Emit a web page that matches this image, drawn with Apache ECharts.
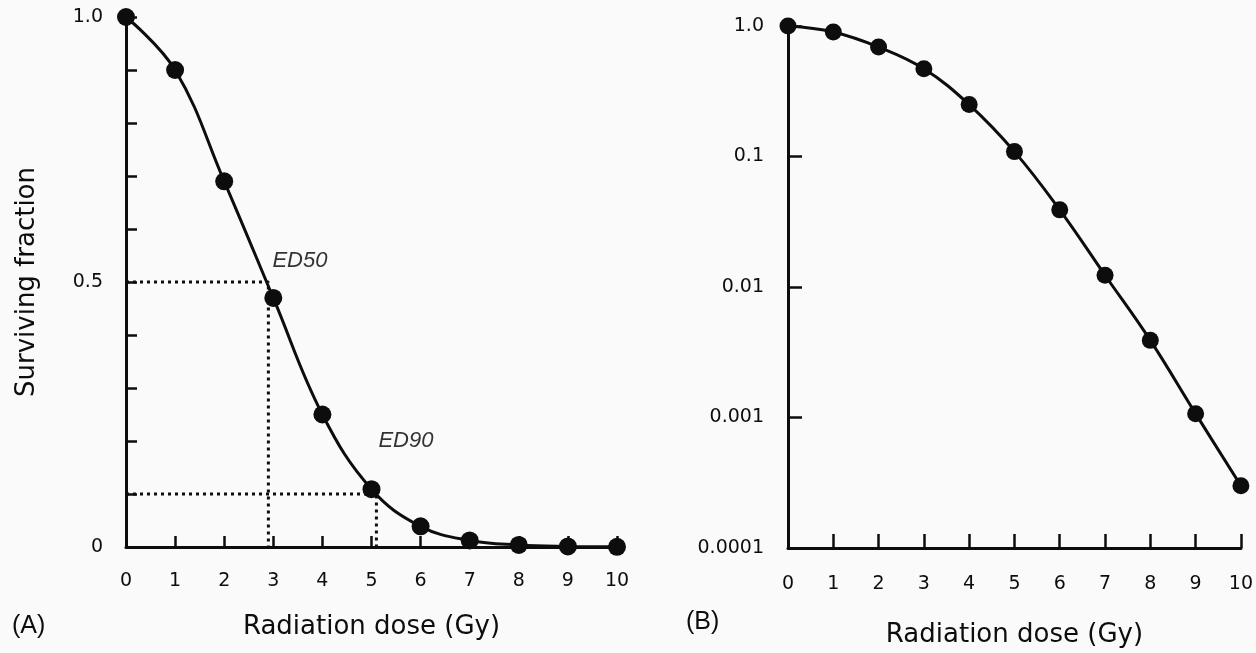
<!DOCTYPE html>
<html>
<head>
<meta charset="utf-8">
<script src="https://cdn.jsdelivr.net/npm/echarts@6/dist/echarts.min.js"></script>
<style>
  html, body { margin: 0; padding: 0; background: #fafafa; }
  #main { width: 1256px; height: 653px; }
</style>
</head>
<body>
<div id="main"></div>
<script>
// dose (Gy) and surviving fraction
var doses = [0, 1, 2, 3, 4, 5, 6, 7, 8, 9, 10];
var survival = [1.0, 0.9, 0.69, 0.47, 0.25, 0.109, 0.039, 0.0123, 0.0039, 0.00107, 0.0003];
var xTicks = ['0', '1', '2', '3', '4', '5', '6', '7', '8', '9', '10'];
var linTickLabels = { '0': '0', '0.5': '0.5', '1': '1.0' };
var logTickLabels = ['0.0001', '0.001', '0.01', '0.1', '1.0'];
// ED50 / ED90
var ed50 = [2.9, 0.5];
var ed90 = [5.1, 0.1];

var pts = doses.map(function (d, i) { return [d, survival[i]]; });

var fontTick = 'DejaVu Sans, sans-serif';
var fontName = 'DejaVu Sans, sans-serif';
var ink = '#0d0d0d';

function xAxisCfg(gridIndex, tickLen, gap, margin) {
  return {
    gridIndex: gridIndex,
    type: 'value',
    min: 0,
    max: 10,
    interval: 1,
    name: 'Radiation dose (Gy)',
    nameLocation: 'middle',
    nameGap: gap,
    nameTextStyle: { fontFamily: fontName, fontSize: 26, color: ink },
    axisLine: { lineStyle: { color: ink, width: 3 } },
    axisTick: { inside: true, length: tickLen, lineStyle: { color: ink, width: 2.5 } },
    axisLabel: {
      margin: margin,
      fontFamily: fontTick,
      fontSize: 19,
      color: ink,
      formatter: function (v) { return xTicks[v]; }
    },
    splitLine: { show: false }
  };
}

// dotted guide from the y axis over to the curve and down to the x axis
function guide(p) {
  return [[0, p[1]], p, [p[0], 0]];
}

var option = {
  backgroundColor: '#fafafa',
  animation: false,
  grid: [
    { left: 126, top: 17, width: 491, height: 530 },
    { left: 788, top: 26, width: 455, height: 527 }
  ],
  xAxis: [xAxisCfg(0, 11, 67, 25), xAxisCfg(1, 14, 74, 27)],
  yAxis: [
    {
      gridIndex: 0,
      type: 'value',
      min: 0,
      max: 1,
      interval: 0.1,
      name: 'Surviving fraction',
      nameLocation: 'middle',
      nameGap: 86,
      nameTextStyle: { fontFamily: fontName, fontSize: 26, color: ink },
      axisLine: { show: true, lineStyle: { color: ink, width: 3 } },
      axisTick: { show: true, inside: true, length: 11, lineStyle: { color: ink, width: 2.5 } },
      axisLabel: {
        margin: 23,
        fontFamily: fontTick,
        fontSize: 19,
        color: ink,
        formatter: function (v) {
          var k = String(Math.round(v * 10) / 10);
          return linTickLabels[k] || '';
        }
      },
      splitLine: { show: false }
    },
    {
      gridIndex: 1,
      type: 'log',
      logBase: 10,
      min: 0.0001,
      max: 1,
      interval: 1,
      axisLine: { show: true, lineStyle: { color: ink, width: 3 } },
      axisTick: { show: true, inside: true, length: 14, lineStyle: { color: ink, width: 2.5 } },
      axisLabel: {
        margin: 24,
        fontFamily: fontTick,
        fontSize: 19,
        color: ink,
        formatter: function (v) {
          var e = Math.round(Math.log10(v)) + 4;
          return logTickLabels[e] || '';
        }
      },
      splitLine: { show: false }
    }
  ],
  series: [
    {
      type: 'line',
      xAxisIndex: 0,
      yAxisIndex: 0,
      data: guide(ed50),
      symbol: 'none',
      lineStyle: { color: ink, width: 3, type: [3, 4] },
      z: 1
    },
    {
      type: 'line',
      xAxisIndex: 0,
      yAxisIndex: 0,
      data: guide(ed90),
      symbol: 'none',
      lineStyle: { color: ink, width: 3, type: [3, 4] },
      z: 1
    },
    {
      type: 'line',
      xAxisIndex: 0,
      yAxisIndex: 0,
      data: pts,
      smooth: 0.4,
      symbol: 'circle',
      symbolSize: 18,
      itemStyle: { color: ink },
      lineStyle: { color: ink, width: 3 },
      z: 3
    },
    {
      type: 'line',
      xAxisIndex: 1,
      yAxisIndex: 1,
      data: pts,
      smooth: 0.4,
      symbol: 'circle',
      symbolSize: 17,
      itemStyle: { color: ink },
      lineStyle: { color: ink, width: 3 },
      z: 3
    },
    {
      // ED50 / ED90 annotations, anchored at the guide points
      type: 'scatter',
      xAxisIndex: 0,
      yAxisIndex: 0,
      symbolSize: 0,
      silent: true,
      data: [
        { value: ed50, name: 'ED50', label: { offset: [4, -21] } },
        { value: ed90, name: 'ED90', label: { offset: [2, -53] } }
      ],
      label: {
        show: true,
        position: 'inside',
        align: 'left',
        verticalAlign: 'middle',
        formatter: '{b}',
        fontFamily: 'Liberation Sans, Arial, sans-serif',
        fontStyle: 'italic',
        fontSize: 22,
        color: '#000'
      },
      z: 4
    }
  ],
  graphic: [
    { type: 'text', left: 12, top: 614, style: { text: '(A)', font: '25px Liberation Sans, Arial', fill: ink } },
    { type: 'text', left: 686, top: 610, style: { text: '(B)', font: '25px Liberation Sans, Arial', fill: ink } }
  ]
};

var chart = echarts.init(document.getElementById('main'));
chart.setOption(option);
</script>
</body>
</html>
